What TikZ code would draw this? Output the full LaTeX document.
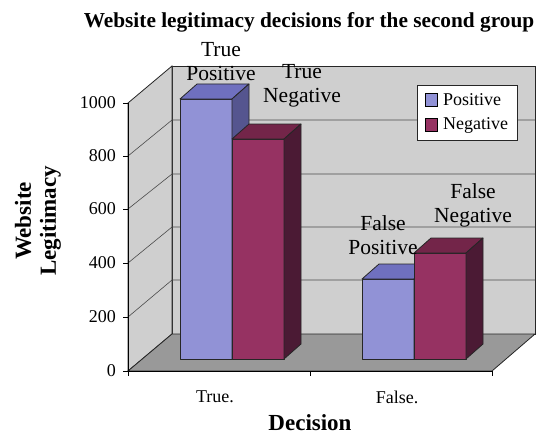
\documentclass[tikz,border=0pt]{standalone}
\usepackage{fontspec}
\setmainfont{Liberation Serif}
\definecolor{wallc}{HTML}{CFCFCF}
\definecolor{floorc}{HTML}{999999}
\definecolor{gridc}{HTML}{4A4A4A}
\definecolor{posF}{HTML}{9192D6}
\definecolor{posT}{HTML}{6F70BF}
\definecolor{posS}{HTML}{55558F}
\definecolor{negF}{HTML}{963262}
\definecolor{negT}{HTML}{732549}
\definecolor{negS}{HTML}{4B1A34}
\newcommand\drawbar[6]{%
  \filldraw[barline,fill=#4] (#1,359) rectangle (#2,#3);
  \filldraw[barline,fill=#5] (#1,#3) -- (#2,#3) -- ++(17,-15) -- (#1+17,#3-15) -- cycle;
  \filldraw[barline,fill=#6] (#2,359) -- (#2,#3) -- ++(17,-15) -- (#2+17,344) -- cycle;
}
\begin{document}
\begin{tikzpicture}[x=1pt,y=-1pt,
  barline/.style={draw=black!85,line width=0.8pt,line join=round},
  wall/.style={draw=black!85,line width=0.8pt,fill=wallc},
  gridl/.style={draw=gridc,line width=0.6pt},
  ticklab/.style={font=\fontsize{18}{20}\selectfont,inner sep=0pt},
  datalab/.style={font=\fontsize{21.5}{24}\selectfont,align=center,inner sep=0pt},
  axtitle/.style={font=\fontsize{23}{25}\selectfont\bfseries,align=center,inner sep=0pt},
  legtext/.style={font=\fontsize{18}{20}\selectfont,anchor=west,inner sep=0pt}]
\useasboundingbox (0,0) rectangle (541,436);
\fill[white] (0,0) rectangle (541,436);
% walls and floor
\filldraw[wall] (172,66) -- (535,66) -- (535,334) -- (172,334) -- cycle;
\filldraw[wall] (128,103) -- (172,66) -- (172,334) -- (128,371) -- cycle;
\filldraw[draw=black!85,line width=0.8pt,fill=floorc] (128,371) -- (492,371) -- (535,334) -- (172,334) -- cycle;
% gridlines
\foreach \yf/\yb in {317/280,263/227,209/174,156/120}{
  \draw[gridl] (128,\yf) -- (172,\yb) -- (535,\yb);
}
% axes
\draw[black,line width=0.9pt] (128,103) -- (128,371) -- (492,371);
\foreach \yy/\lab in {371/0,317/200,263/400,209/600,156/800,103/1000}{
  \draw[black,line width=0.9pt] (123,\yy) -- (128,\yy);
  \node[ticklab,anchor=east] (t\lab) at (116,\yy) {\lab};
}
\foreach \xx in {128,310,492}{\draw[black,line width=0.9pt] (\xx,371) -- (\xx,376);}
% bars
\drawbar{180}{232}{99}{posF}{posT}{posS}
\drawbar{232}{284}{139}{negF}{negT}{negS}
\drawbar{362}{414}{279}{posF}{posT}{posS}
\drawbar{414}{466}{253}{negF}{negT}{negS}
% legend
\filldraw[draw=black!85,line width=0.8pt,fill=white] (417,85) rectangle (517,140);
\filldraw[draw=black,line width=0.8pt,fill=posF] (425,93) rectangle (437,106);
\filldraw[draw=black,line width=0.8pt,fill=negF] (425,118) rectangle (437,131);
\node[legtext] (lp) at (443,100) {Positive};
\node[legtext] (ln) at (443,125) {Negative};
% data labels
\node[datalab] (tp) at (221,62) {True\\Positive};
\node[datalab] (tn) at (302,86) {True\\Negative};
\node[datalab] (fp) at (383,235) {False\\Positive};
\node[datalab] (fn) at (473,205) {False\\Negative};
% category labels
\node[ticklab] (ctrue) at (215,397) {True.};
\node[ticklab] (cfalse) at (397,397) {False.};
% titles
\node[font=\fontsize{21.3}{23}\selectfont\bfseries,inner sep=0pt] (title) at (309,22) {Website legitimacy decisions for the second group};
\node[axtitle] (xt) at (310,423) {Decision};
\node[axtitle,rotate=90] (yt) at (38,221) {Website\\Legitimacy};
\end{tikzpicture}
\end{document}
